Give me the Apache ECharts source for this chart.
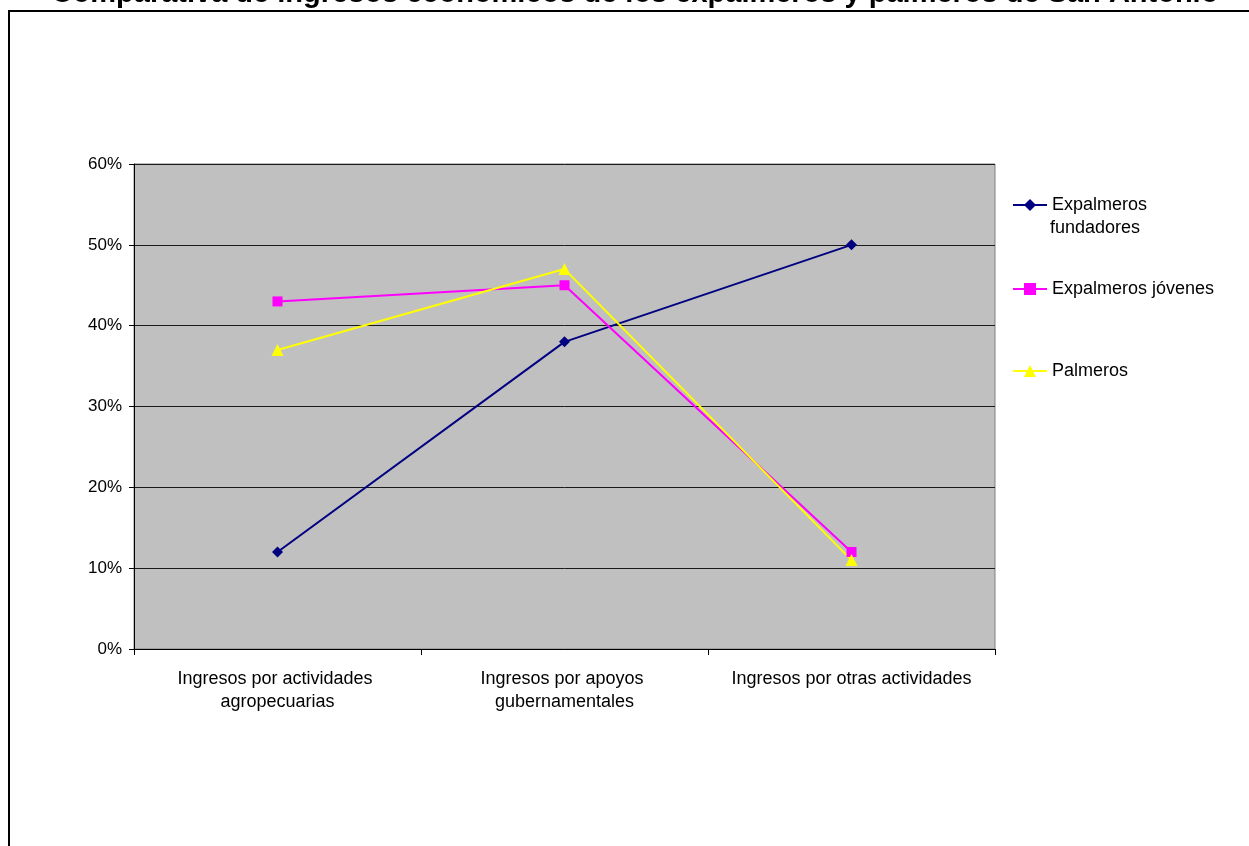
<!DOCTYPE html>
<html>
<head>
<meta charset="utf-8">
<script src="https://cdn.jsdelivr.net/npm/echarts@6/dist/echarts.min.js"></script>
<style>
  html, body { margin: 0; padding: 0; background: #fff; }
  #chart { width: 1249px; height: 846px; }
</style>
</head>
<body>
<div id="chart"></div>
<script>
// Income categories and the share of income each group gets from them
const categories = [
  'Ingresos por actividades agropecuarias',
  'Ingresos por apoyos gubernamentales',
  'Ingresos por otras actividades'
];
const expalmerosFundadores = [12, 38, 50];
const expalmerosJovenes = [43, 45, 12];
const palmeros = [37, 47, 11];
const yTicks = [0, 10, 20, 30, 40, 50, 60];

const FONT = 'Liberation Sans, Arial, sans-serif';

const chart = echarts.init(document.getElementById('chart'), null, { renderer: 'canvas' });

const seriesDefs = [
  { name: 'Expalmeros fundadores', data: expalmerosFundadores, color: '#000080', symbol: 'diamond', size: 11 },
  { name: 'Expalmeros jóvenes', data: expalmerosJovenes, color: '#FF00FF', symbol: 'rect', size: 10 },
  { name: 'Palmeros', data: palmeros, color: '#FFFF00', symbol: 'triangle', size: 12 }
];

const legendTops = [196, 280, 362];

chart.setOption({
  animation: false,
  backgroundColor: '#ffffff',
  title: {
    text: 'Comparativa de ingresos económicos de los expalmeros y palmeros de San Antonio',
    left: 635,
    textAlign: 'center',
    top: -21,
    padding: 0,
    textStyle: { fontFamily: FONT, fontWeight: 'bold', fontSize: 29, color: '#000' }
  },
  graphic: [
    {
      type: 'rect',
      shape: { x: 9, y: 11, width: 1400, height: 1000 },
      style: { fill: 'none', stroke: '#000', lineWidth: 2 },
      silent: true
    },
    {
      type: 'text',
      left: 1050,
      top: 219,
      style: { text: 'fundadores', font: '18px ' + FONT, fill: '#000' }
    }
  ],
  legend: seriesDefs.map((s, i) => ({
    data: [s.name],
    orient: 'vertical',
    left: 1012,
    top: legendTops[i],
    padding: 0,
    itemWidth: 34,
    itemHeight: 15,
    itemGap: 4,
    formatter: (name) => name === 'Expalmeros fundadores' ? 'Expalmeros' : name,
    textStyle: { fontFamily: FONT, fontSize: 18, color: '#000' }
  })),
  grid: {
    left: 134,
    right: 254,
    top: 164,
    bottom: 197,
    show: true,
    backgroundColor: '#C0C0C0',
    borderColor: '#808080',
    borderWidth: 1
  },
  xAxis: {
    type: 'category',
    data: categories,
    boundaryGap: true,
    axisLine: { show: true, lineStyle: { color: '#000', width: 1 } },
    axisTick: { show: true, length: 6, alignWithLabel: false, lineStyle: { color: '#000' } },
    axisLabel: {
      interval: 0,
      margin: 19,
      width: 262,
      overflow: 'break',
      lineHeight: 23,
      fontFamily: FONT,
      fontSize: 18,
      color: '#000'
    },
    splitLine: { show: false }
  },
  yAxis: {
    type: 'value',
    min: 0,
    max: 60,
    interval: 10,
    axisLine: { show: true, lineStyle: { color: '#000', width: 1 } },
    axisTick: { show: true, length: 5, lineStyle: { color: '#000' } },
    axisLabel: {
      margin: 12,
      fontFamily: FONT,
      fontSize: 17,
      color: '#000',
      formatter: (v) => yTicks.includes(v) ? v + '%' : ''
    },
    splitLine: { show: true, lineStyle: { color: '#1a1a1a', width: 1 } }
  },
  series: seriesDefs.map(s => ({
    name: s.name,
    type: 'line',
    data: s.data,
    symbol: s.symbol,
    symbolSize: s.size,
    showSymbol: true,
    lineStyle: { color: s.color, width: 2 },
    itemStyle: { color: s.color, borderWidth: 0 },
    emphasis: { disabled: true }
  }))
});
</script>
</body>
</html>
